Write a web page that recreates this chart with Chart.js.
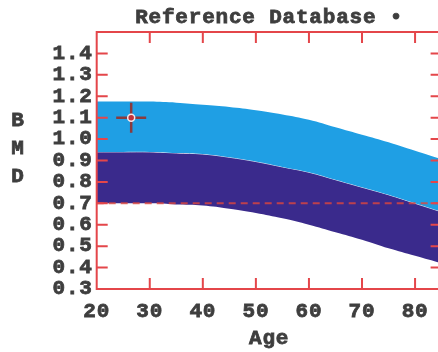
<!DOCTYPE html>
<html>
<head>
<meta charset="utf-8">
<script src="https://cdn.jsdelivr.net/npm/chart.js@4.4.0/dist/chart.umd.min.js"></script>
<style>
  html, body { margin: 0; padding: 0; background: #fff; overflow: hidden; }
  canvas { display: block; }
</style>
</head>
<body>
<canvas id="bmdChart" width="444" height="352"></canvas>
<script>
// reference curves
const ages = [20, 25, 30, 35, 40, 45, 50, 55, 60, 65, 70, 75, 80, 85];
const upperBmd = [1.175, 1.175, 1.175, 1.17, 1.16, 1.15, 1.135, 1.115, 1.09, 1.055, 1.02, 0.985, 0.945, 0.905];
const meanBmd = [0.94, 0.94, 0.94, 0.935, 0.93, 0.915, 0.895, 0.87, 0.845, 0.81, 0.775, 0.74, 0.70, 0.66];
const lowerBmd = [0.70, 0.70, 0.70, 0.695, 0.69, 0.675, 0.655, 0.63, 0.60, 0.565, 0.53, 0.49, 0.455, 0.42];
const thresholdBmd = 0.7;
const patientAge = 26.5;
const patientBmd = 1.10;

const xTicks = [20, 30, 40, 50, 60, 70, 80];
const yTicks = [0.3, 0.4, 0.5, 0.6, 0.7, 0.8, 0.9, 1.0, 1.1, 1.2, 1.3, 1.4];

const RED = "#e4464a";
const TEXT = "#3e3e3e";
const FAMILY = "'Liberation Mono', monospace";
const FONT = "bold 21px " + FAMILY;
const tickFont = { family: FAMILY, size: 21, weight: "bold" };

const toPoints = (vals) => ages.map((a, i) => ({ x: a, y: vals[i] }));

// frame, inward ticks and the free text
const framePlugin = {
  id: "frame",
  beforeDraw(chart) {
    chart.ctx.letterSpacing = "0.8px";
  },
  afterDraw(chart) {
    const { ctx, chartArea: a, scales } = chart;
    const len = 11;
    ctx.save();
    ctx.strokeStyle = RED;
    ctx.lineWidth = 2;
    ctx.strokeRect(a.left, a.top, a.right - a.left, a.bottom - a.top);
    ctx.beginPath();
    xTicks.slice(1).forEach((v) => {
      const px = scales.x.getPixelForValue(v);
      ctx.moveTo(px, a.top); ctx.lineTo(px, a.top + len);
      ctx.moveTo(px, a.bottom); ctx.lineTo(px, a.bottom - len);
    });
    yTicks.slice(1).forEach((v) => {
      const py = scales.y.getPixelForValue(v);
      ctx.moveTo(a.left, py); ctx.lineTo(a.left + len, py);
      ctx.moveTo(a.right, py); ctx.lineTo(a.right - len, py);
    });
    ctx.stroke();

    ctx.fillStyle = TEXT;
    ctx.strokeStyle = TEXT;
    ctx.lineWidth = 0.8;
    ctx.font = FONT;
    ctx.textAlign = "center";
    ctx.textBaseline = "middle";
    const cx = (a.left + a.right) / 2;
    const label = (t, x, y) => { ctx.fillText(t, x, y); ctx.strokeText(t, x, y); };
    label("Reference Database \u2022", cx, 18);
    label("Age", cx, 339);
    ["B", "M", "D"].forEach((ch, i) => label(ch, 18, 121 + i * 28));
    ctx.restore();
  },
};

new Chart(document.getElementById("bmdChart"), {
  type: "line",
  data: {
    datasets: [
      {
        label: "lower",
        data: toPoints(lowerBmd),
        borderWidth: 0,
        pointRadius: 0,
        fill: false,
        tension: 0.4,
        order: 5,
      },
      {
        label: "mean",
        data: toPoints(meanBmd),
        borderColor: "rgba(255,255,255,0.8)",
        borderWidth: 1,
        backgroundColor: "#3a2a8c",
        pointRadius: 0,
        fill: "-1",
        tension: 0.4,
        order: 4,
      },
      {
        label: "upper",
        data: toPoints(upperBmd),
        borderWidth: 0,
        backgroundColor: "#1f9fe4",
        pointRadius: 0,
        fill: "-1",
        tension: 0.4,
        order: 3,
      },
      {
        label: "threshold",
        data: [{ x: ages[0], y: thresholdBmd }, { x: ages[ages.length - 1], y: thresholdBmd }],
        borderColor: "rgba(222,70,60,0.8)",
        borderWidth: 2,
        borderDash: [7, 5],
        pointRadius: 0,
        fill: false,
        order: 2,
      },
      {
        label: "patient",
        data: [{ x: patientAge, y: patientBmd }],
        showLine: false,
        pointStyle: "cross",
        pointRadius: 15,
        pointBorderWidth: 2.5,
        pointBorderColor: "#8a3b3e",
        order: 1,
      },
      {
        label: "patientDot",
        data: [{ x: patientAge, y: patientBmd }],
        showLine: false,
        pointStyle: "circle",
        pointRadius: 3.5,
        pointBorderWidth: 1.5,
        pointBorderColor: "#f4e8ea",
        pointBackgroundColor: "#c0303a",
        order: 0,
      },
    ],
  },
  options: {
    responsive: false,
    animation: false,
    layout: { autoPadding: false, padding: { left: 0, right: 2.4, top: 32, bottom: 0 } },
    plugins: {
      legend: { display: false },
      tooltip: { enabled: false },
    },
    scales: {
      x: {
        type: "linear",
        min: 20,
        max: 85,
        afterBuildTicks: (s) => { s.ticks = xTicks.map((v) => ({ value: v })); },
        afterFit: (s) => { s.height = 63; },
        grid: { display: false, drawTicks: false },
        border: { display: false },
        ticks: { color: TEXT, font: tickFont, textStrokeColor: TEXT, textStrokeWidth: 0.8, padding: 10, maxRotation: 0, autoSkip: false },
      },
      y: {
        min: 0.3,
        max: 1.5,
        afterBuildTicks: (s) => { s.ticks = yTicks.map((v) => ({ value: v })); },
        afterFit: (s) => { s.width = 96.7; },
        grid: { display: false, drawTicks: false },
        border: { display: false },
        ticks: { color: TEXT, font: tickFont, textStrokeColor: TEXT, textStrokeWidth: 0.8, padding: 4, autoSkip: false, callback: (v) => v.toFixed(1) },
      },
    },
  },
  plugins: [framePlugin],
});
</script>
</body>
</html>
